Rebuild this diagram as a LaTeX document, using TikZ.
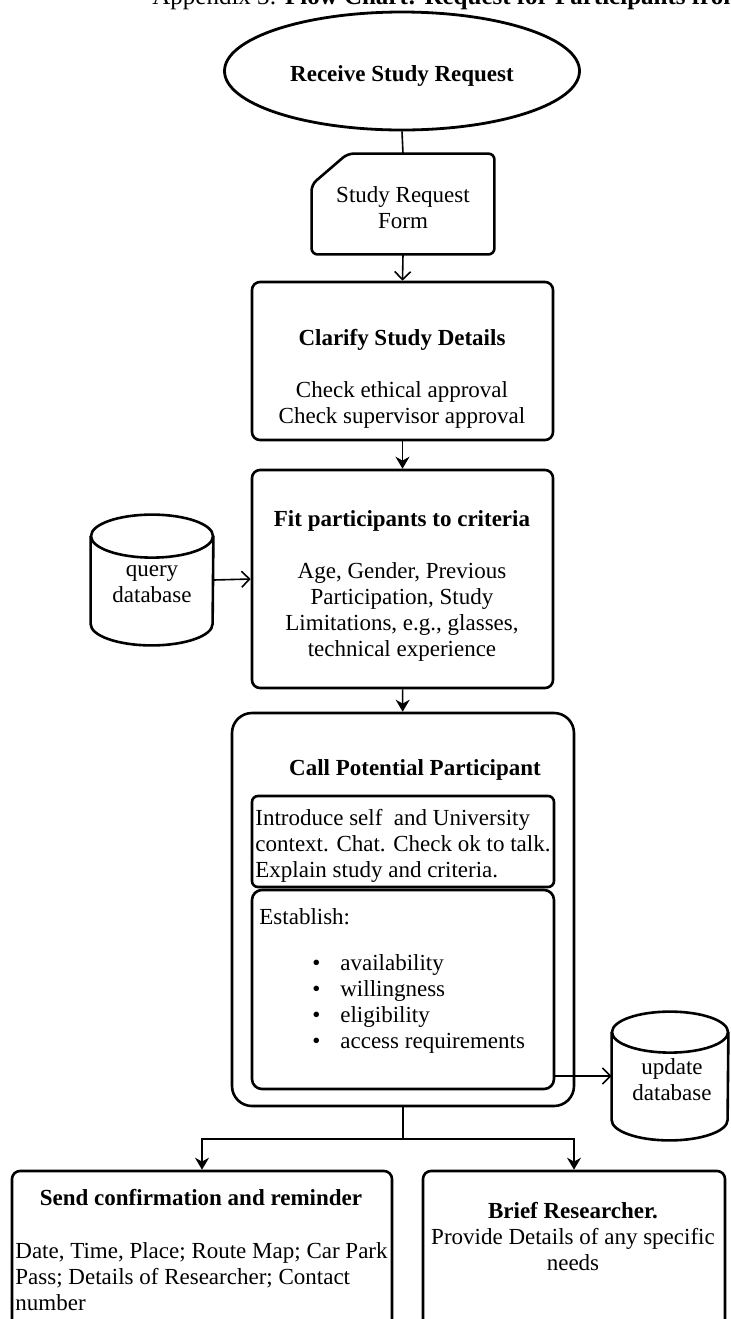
\documentclass[tikz,border=0pt]{standalone}
\usepackage{fontspec}
\setmainfont{Liberation Serif}
\usetikzlibrary{shapes.geometric,fit,arrows.meta}

\begin{document}
\begin{tikzpicture}[x=0.5pt,y=-0.5pt,
    every node/.style={font=\fontsize{11.5}{13}\selectfont, inner sep=0pt},
    box/.style={draw, line width=1.3pt, rounded corners=4pt, inner sep=0pt},
    flow/.style={line width=0.8pt, -{Stealth[length=6pt,width=7pt]}},
    feed/.style={line width=0.8pt, -{Straight Barb[length=4pt,width=8pt]}}]
\useasboundingbox (0,0) rectangle (730,1319);

\node[anchor=base west, font=\fontsize{12.5}{15}\selectfont] (title) at (152,4) {Appendix 3: \textbf{Flow Chart: Request for Participants from}};

\node[ellipse, draw, line width=1.4pt, minimum width=177.5pt, minimum height=59pt] (start) at (402,71) {};
\node (startText) at (402,76) {\textbf{Receive Study Request}};

% form card, top left corner cut off
\node[fit={(312,154) (494,254)}] (form) {};
\draw[line width=1.3pt, rounded corners=3pt] ([yshift=-15.5pt]form.north west) -- ([xshift=18pt]form.north west) -- (form.north east) -- (form.south east) -- (form.south west) -- cycle;
\node[align=center] (formText) at (403,208) {Study Request\\Form};

\node[box, fit={(252,282) (553,440)}] (clarify) {};
\node[align=center] (clarifyText) at (402,379) {\textbf{Clarify Study Details}\\[13pt] Check ethical approval\\Check supervisor approval};

\node[box, fit={(252,470) (553,688)}] (criteria) {};
\node[align=center] (criteriaText) at (402,586) {\textbf{Fit participants to criteria}\\[13pt] Age, Gender, Previous\\Participation, Study\\Limitations, e.g., glasses,\\technical experience};

% query database
\node[fit={(91,515) (213,645)}] (query) {};
\draw[line width=1.3pt] ([yshift=-10.75pt]query.north west) -- ([yshift=10.75pt]query.south west) arc[start angle=180, end angle=360, x radius=30.5pt, y radius=10.75pt] -- ([yshift=-10.75pt]query.north east);
\draw[line width=1.3pt] ([yshift=-10.75pt]query.north) ellipse[x radius=30.5pt, y radius=10.75pt];
\node[align=center] (queryText) at (152,584) {query\\database};

% call box with two inner boxes
\node[box, rounded corners=10pt, fit={(232,713) (574,1106)}] (call) {};
\node (callText) at (415,770) {\textbf{Call Potential Participant}};
\node[box, rounded corners=3pt, fit={(252,796) (554,887)}] (intro) {};
\node[align=left, anchor=west] (introText) at (255,846) {Introduce self\ \ and University\\context. Chat. Check ok to talk.\\Explain study and criteria.};
\node[box, rounded corners=5pt, fit={(252,890) (554,1089)}] (est) {};
\node[anchor=west] (estText) at (259,917) {Establish:};
\node[align=left, anchor=west] (estList) at (312,1004) {\makebox[14pt][l]{\textbullet}availability\\\makebox[14pt][l]{\textbullet}willingness\\\makebox[14pt][l]{\textbullet}eligibility\\\makebox[14pt][l]{\textbullet}access requirements};

% update database
\node[fit={(612,1012) (728,1140)}] (update) {};
\draw[line width=1.3pt] ([yshift=-10.25pt]update.north west) -- ([yshift=10.25pt]update.south west) arc[start angle=180, end angle=360, x radius=29pt, y radius=10.25pt] -- ([yshift=-10.25pt]update.north east);
\draw[line width=1.3pt] ([yshift=-10.25pt]update.north) ellipse[x radius=29pt, y radius=10.25pt];
\node[align=center] (updateText) at (672,1080) {update\\database};

\node[box, fit={(12,1171) (392,1335)}] (send) {};
\node (sendTitle) at (201,1197) {\textbf{Send confirmation and reminder}};
\node[align=left, anchor=west] (sendText) at (15,1277) {Date, Time, Place; Route Map; Car Park\\Pass; Details of Researcher; Contact\\number};
\node[box, fit={(423,1171) (725,1335)}] (brief) {};
\node[align=center] (briefText) at (573,1236) {\textbf{Brief Researcher.}\\Provide Details of any specific\\needs};

\draw[line width=0.8pt] (start.south) -- (form.north);
\draw[feed] (form.south) -- (clarify.north);
\draw[flow] (clarify) -- (criteria);
\draw[feed] (query.east) -- (criteria.west);
\draw[flow] (criteria) -- (call);
\draw[feed] (est.east |- update.west) -- (update.west);
\coordinate (split) at (403,1139);
\draw[line width=0.8pt] (call.south) -- (split);
\draw[flow] (split) -| (send.north);
\draw[flow] (split) -| (brief.north);
\end{tikzpicture}
\end{document}
